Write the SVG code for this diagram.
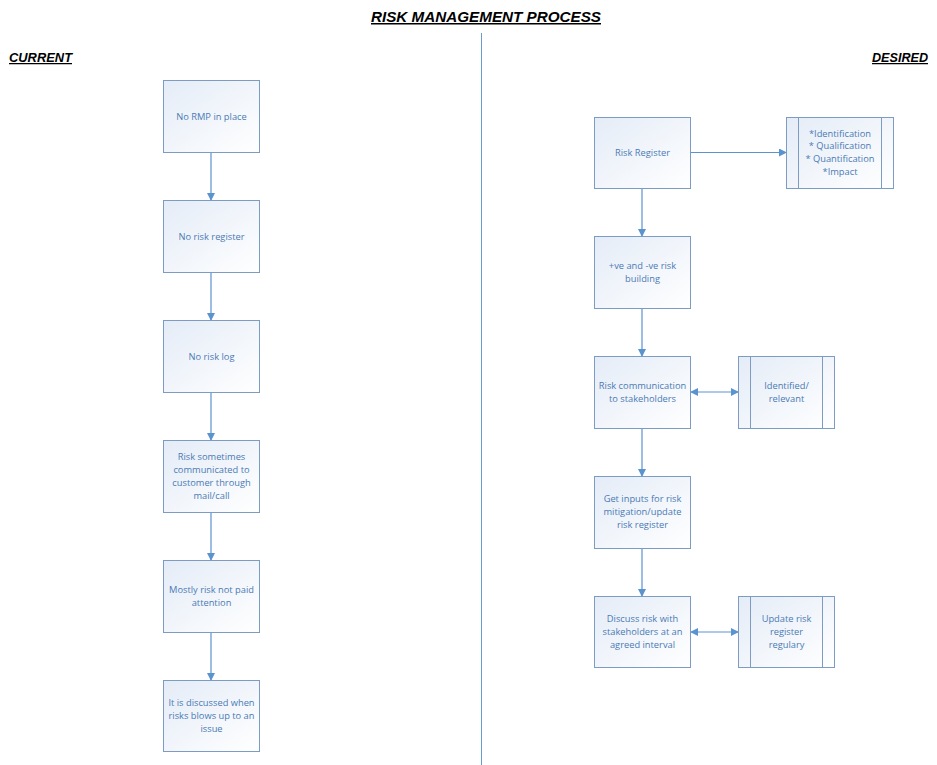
<svg xmlns="http://www.w3.org/2000/svg" width="937" height="765" viewBox="0 0 937 765">
<style>
.box{fill:url(#g);stroke:#7d9cc4;stroke-width:1}
.t{font-family:"Open Sans","Liberation Sans",sans-serif;font-size:9.3px;fill:#4a7ab5;text-anchor:middle}
.c{fill:none;stroke:#5b93cf;stroke-width:1.2}
.h{font-family:"Liberation Sans",Arial,sans-serif;font-weight:bold;font-style:italic;text-decoration:underline;fill:#000}
</style>
<defs>
<linearGradient id="g" x1="0" y1="0" x2="1" y2="1">
<stop offset="0" stop-color="#e4ecf7"/><stop offset="1" stop-color="#ffffff"/>
</linearGradient>
<marker id="a" markerWidth="8" markerHeight="8" refX="7" refY="4" orient="auto" markerUnits="userSpaceOnUse"><path d="M0,0 L8,4 L0,8 z" fill="#5b93cf"/></marker>
<marker id="s" markerWidth="8" markerHeight="8" refX="1" refY="4" orient="auto" markerUnits="userSpaceOnUse"><path d="M8,0 L0,4 L8,8 z" fill="#5b93cf"/></marker>
</defs>
<rect width="937" height="765" fill="#fff"/>
<text class="h" x="486" y="22" font-size="15" text-anchor="middle" textLength="230" lengthAdjust="spacingAndGlyphs">RISK MANAGEMENT PROCESS</text>
<text class="h" x="9" y="62" font-size="12.5" textLength="63" lengthAdjust="spacingAndGlyphs">CURRENT</text>
<text class="h" x="872" y="62" font-size="12.5" textLength="56" lengthAdjust="spacingAndGlyphs">DESIRED</text>
<line x1="481.5" y1="33" x2="481.5" y2="765" stroke="#6a9bcf" stroke-width="1"/>
<g id="connectors">
<line class="c" x1="211" y1="152" x2="211" y2="200" marker-end="url(#a)"/>
<line class="c" x1="211" y1="272" x2="211" y2="320" marker-end="url(#a)"/>
<line class="c" x1="211" y1="392" x2="211" y2="440" marker-end="url(#a)"/>
<line class="c" x1="211" y1="512" x2="211" y2="560" marker-end="url(#a)"/>
<line class="c" x1="211" y1="632" x2="211" y2="680" marker-end="url(#a)"/>
<line class="c" x1="642" y1="188" x2="642" y2="236" marker-end="url(#a)"/>
<line class="c" x1="642" y1="308" x2="642" y2="356" marker-end="url(#a)"/>
<line class="c" x1="642" y1="428" x2="642" y2="476" marker-end="url(#a)"/>
<line class="c" x1="642" y1="548" x2="642" y2="596" marker-end="url(#a)"/>
<line class="c" x1="690" y1="152.5" x2="786" y2="152.5" marker-end="url(#a)"/>
<line class="c" x1="691" y1="392" x2="738" y2="392" marker-start="url(#s)" marker-end="url(#a)"/>
<line class="c" x1="691" y1="632" x2="738" y2="632" marker-start="url(#s)" marker-end="url(#a)"/>
</g>
<g id="n1"><rect class="box" x="163.5" y="80.5" width="96" height="72"/><text class="t" x="211.5" y="120">No RMP in place</text></g>
<g id="n2"><rect class="box" x="163.5" y="200.5" width="96" height="72"/><text class="t" x="211.5" y="240">No risk register</text></g>
<g id="n3"><rect class="box" x="163.5" y="320.5" width="96" height="72"/><text class="t" x="211.5" y="360">No risk log</text></g>
<g id="n4"><rect class="box" x="163.5" y="440.5" width="96" height="72"/><text class="t" x="211.5" y="460">Risk sometimes</text><text class="t" x="211.5" y="473">communicated to</text><text class="t" x="211.5" y="486">customer through</text><text class="t" x="211.5" y="499">mail/call</text></g>
<g id="n5"><rect class="box" x="163.5" y="560.5" width="96" height="72"/><text class="t" x="211.5" y="593">Mostly risk not paid</text><text class="t" x="211.5" y="606">attention</text></g>
<g id="n6"><rect class="box" x="163.5" y="680.5" width="96" height="71"/><text class="t" x="211.5" y="706">It is discussed when</text><text class="t" x="211.5" y="719">risks blows up to an</text><text class="t" x="211.5" y="732">issue</text></g>
<g id="d1"><rect class="box" x="594.5" y="117.5" width="96" height="71"/><text class="t" x="642.5" y="156">Risk Register</text></g>
<g id="d2"><rect class="box" x="594.5" y="236.5" width="96" height="72"/><text class="t" x="642.5" y="269">+ve and -ve risk</text><text class="t" x="642.5" y="282">building</text></g>
<g id="d3"><rect class="box" x="594.5" y="356.5" width="96" height="72"/><text class="t" x="642.5" y="389">Risk communication</text><text class="t" x="642.5" y="402">to stakeholders</text></g>
<g id="d4"><rect class="box" x="594.5" y="476.5" width="96" height="72"/><text class="t" x="642.5" y="502">Get inputs for risk</text><text class="t" x="642.5" y="515">mitigation/update</text><text class="t" x="642.5" y="528">risk register</text></g>
<g id="d5"><rect class="box" x="594.5" y="596.5" width="96" height="71"/><text class="t" x="642.5" y="622">Discuss risk with</text><text class="t" x="642.5" y="635">stakeholders at an</text><text class="t" x="642.5" y="648">agreed interval</text></g>
<g id="s1"><rect class="box" x="786.5" y="117.5" width="107" height="71"/><line x1="798.5" y1="117.5" x2="798.5" y2="188.5" stroke="#7d9cc4"/><line x1="881.5" y1="117.5" x2="881.5" y2="188.5" stroke="#7d9cc4"/><text class="t" x="840" y="137">*Identification</text><text class="t" x="840" y="149">* Qualification</text><text class="t" x="840" y="162">* Quantification</text><text class="t" x="840" y="175">*Impact</text></g>
<g id="s2"><rect class="box" x="738.5" y="356.5" width="96" height="72"/><line x1="750.5" y1="356.5" x2="750.5" y2="428.5" stroke="#7d9cc4"/><line x1="822.5" y1="356.5" x2="822.5" y2="428.5" stroke="#7d9cc4"/><text class="t" x="786.5" y="389">Identified/</text><text class="t" x="786.5" y="402">relevant</text></g>
<g id="s3"><rect class="box" x="738.5" y="596.5" width="96" height="71"/><line x1="750.5" y1="596.5" x2="750.5" y2="667.5" stroke="#7d9cc4"/><line x1="822.5" y1="596.5" x2="822.5" y2="667.5" stroke="#7d9cc4"/><text class="t" x="786.5" y="622">Update risk</text><text class="t" x="786.5" y="635">register</text><text class="t" x="786.5" y="648">regulary</text></g>
</svg>
